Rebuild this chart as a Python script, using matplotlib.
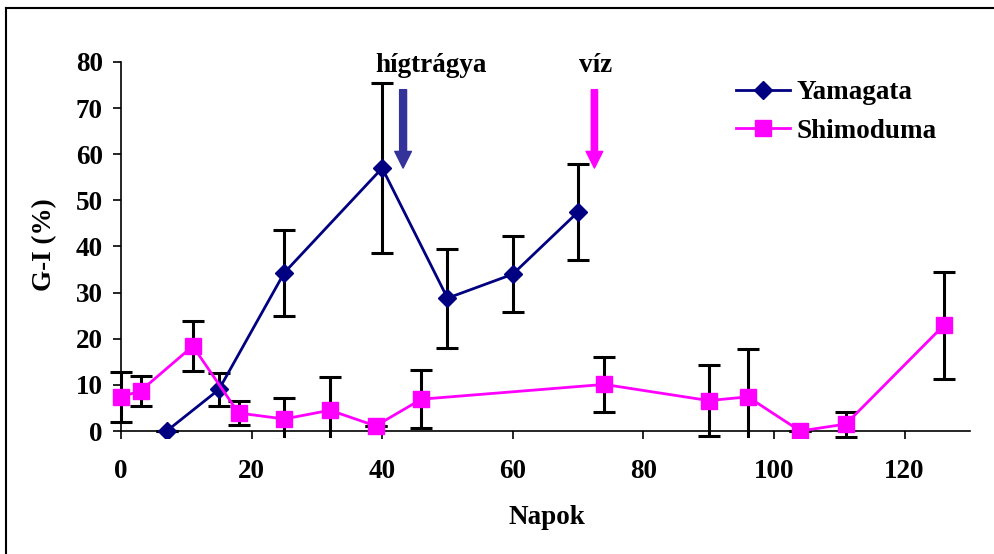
import matplotlib
matplotlib.use("Agg")
from matplotlib import pyplot as plt
from matplotlib.lines import Line2D

# Yamagata
yam_x = [7, 15, 25, 40, 50, 60, 70]
yam_y = [0, 9, 34.3, 57, 28.8, 34, 47.5]
yam_err = [0, 3.5, 9.3, 18.5, 10.7, 8.3, 10.4]

# Shimoduma
shi_x = [0, 3, 11, 18, 25, 32, 39, 46, 74, 90, 96, 104, 111, 126]
shi_y = [7.4, 8.7, 18.4, 3.9, 2.6, 4.5, 1.1, 6.9, 10.1, 6.6, 7.4, 0, 1.5, 22.9]
shi_err = [5.4, 3.3, 5.4, 2.7, 4.6, 7.3, 0, 6.3, 6.0, 7.7, 10.3, 0, 2.7, 11.6]

plt.rcParams['font.family'] = ['Liberation Serif', 'DejaVu Serif']
plt.rcParams['font.weight'] = 'bold'
fs = 19.5

fig = plt.figure(figsize=(9.95, 5.54), dpi=100)
# x range -3..130 so the first points are not cut, y range -1.6..80
ax = fig.add_axes([101.4 / 995, 0.2087, 868.5 / 995, 0.6794])

navy = '#000080'
mag = '#ff00ff'

ax.errorbar(yam_x, yam_y, yerr=yam_err, fmt='none', ecolor='black', elinewidth=2.2, capsize=8, capthick=2.2, zorder=2)
ax.errorbar(shi_x, shi_y, yerr=shi_err, fmt='none', ecolor='black', elinewidth=2.2, capsize=8, capthick=2.2, zorder=2)
ax.plot(yam_x, yam_y, color=navy, lw=2, marker='D', ms=9, zorder=3, label='Yamagata')
ax.plot(shi_x, shi_y, color=mag, lw=2, marker='s', ms=11, zorder=4, label='Shimoduma')

ax.set_xlim(-3, 130)
ax.set_ylim(-1.6, 80)
ax.spines['top'].set_visible(False)
ax.spines['right'].set_visible(False)
ax.spines['bottom'].set_position(('data', 0))
ax.spines['bottom'].set_bounds(0, 130)
ax.spines['left'].set_position(('data', 0))
ax.spines['left'].set_bounds(0, 80)
ax.set_xticks(range(0, 121, 20))
ax.set_yticks(range(0, 81, 10))
ax.tick_params(axis='x', direction='out', length=6, width=1.2, pad=14, labelsize=fs, colors='black')
ax.tick_params(axis='y', direction='out', length=6, width=1.2, pad=7, labelsize=fs)
for s in ['left', 'bottom']:
    ax.spines[s].set_linewidth(1.2)

ax.set_ylabel('G-I (%)', fontsize=fs, fontweight='bold', va='center')
ax.yaxis.set_label_coords((45 - 101.4) / 868.5, 0.514)
fig.text(547 / 995, 1 - 518 / 554, 'Napok', fontsize=fs, fontweight='bold', ha='center', va='center')

# arrows and notes
ax.text(47.4, 79.2, 'hígtrágya', fontsize=fs, fontweight='bold', ha='center', va='center')
ax.text(72.6, 79.2, 'víz', fontsize=fs, fontweight='bold', ha='center', va='center')
ax.annotate('', xy=(43.2, 57), xytext=(43.2, 74),
            arrowprops=dict(arrowstyle='simple,head_width=1.2,head_length=1.2,tail_width=0.5',
                            color='#333399', mutation_scale=10, shrinkA=0, shrinkB=0))
ax.annotate('', xy=(72.5, 57), xytext=(72.5, 74),
            arrowprops=dict(arrowstyle='simple,head_width=1.2,head_length=1.2,tail_width=0.45',
                            color=mag, mutation_scale=10, shrinkA=0, shrinkB=0))

ax.legend(loc='upper left', bbox_to_anchor=(736 / 995, 1 - 80 / 554), bbox_transform=fig.transFigure,
          frameon=False, fontsize=fs, handlelength=2.0, handletextpad=0.25, labelspacing=0.5,
          borderpad=0, borderaxespad=0)

# figure frame (top and left edges)
fig.add_artist(Line2D([6 / 995, 6 / 995], [0, 1 - 8 / 554], color='black', lw=1.5, transform=fig.transFigure))
fig.add_artist(Line2D([6 / 995, 1], [1 - 8 / 554, 1 - 8 / 554], color='black', lw=1.5, transform=fig.transFigure))

fig.savefig('out.png', dpi=100)
